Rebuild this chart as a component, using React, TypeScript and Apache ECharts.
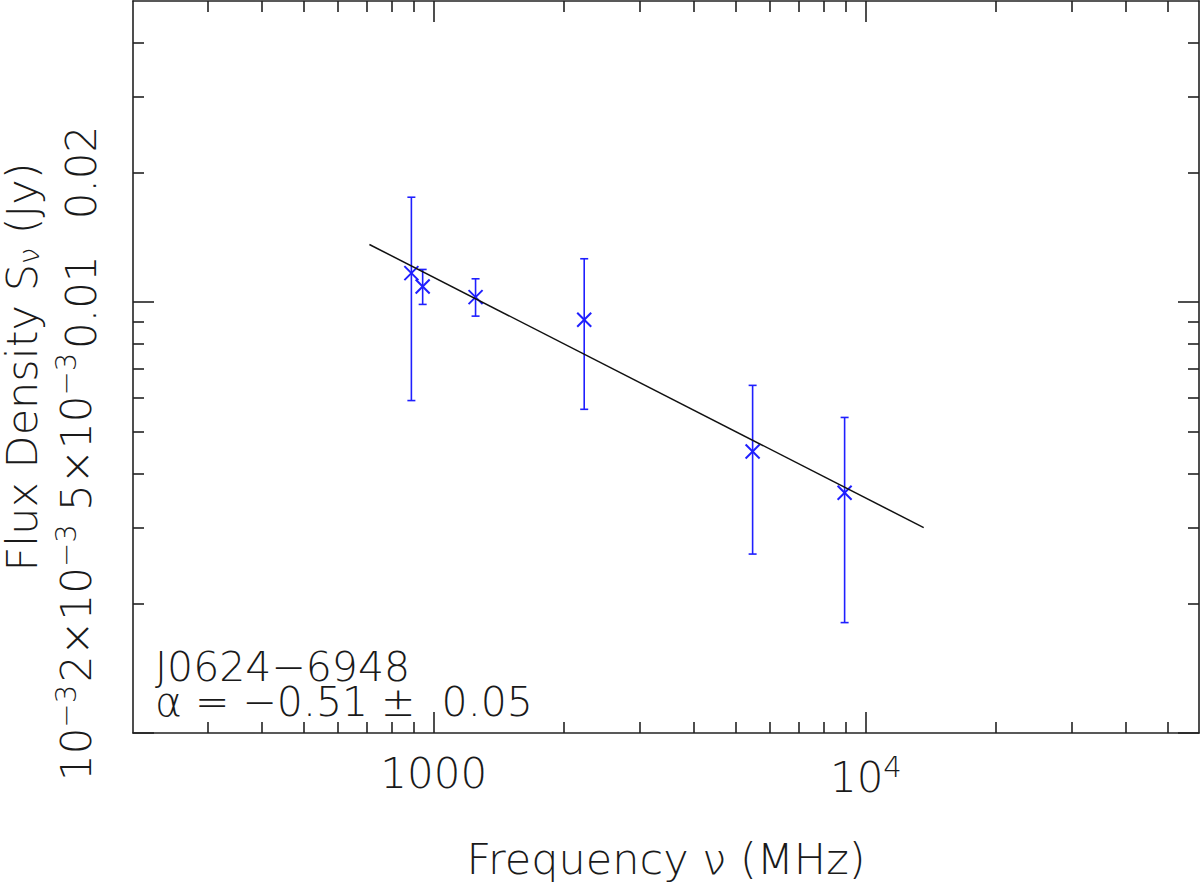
import React, { useEffect, useRef } from "react";
import * as echarts from "echarts";

// ---- data (real units) ----
const freqMHz = [888, 943, 1250, 2230, 5470, 8930];
const fluxJy = [0.01168, 0.01087, 0.01027, 0.0091, 0.0045, 0.003612];
const fluxLowJy = [0.00591, 0.00988, 0.00928, 0.00564, 0.002602, 0.001804];
const fluxHighJy = [0.01752, 0.01191, 0.01133, 0.01261, 0.00641, 0.0054];

const fitFreqMHz = [710, 13610];
const fitFluxJy = [0.01361, 0.002997];

const xRange = [201.5, 59000];
const yRange = [0.001, 0.05];

const xMajorTicks = [1000, 10000];
const xMinorTicks = [300, 400, 500, 600, 700, 800, 900, 2000, 3000, 4000, 5000, 6000, 7000, 8000, 9000, 20000, 30000, 40000, 50000];
const xTickLabels = ["1000", "{b|10}{sup|4}"];

const yMajorTicks = [0.001, 0.01];
const yMinorTicks = [0.002, 0.003, 0.004, 0.005, 0.006, 0.007, 0.008, 0.009, 0.02, 0.03, 0.04];
const yLabelValues = [0.001, 0.002, 0.005, 0.01, 0.02];
const yTickLabels = ["{b|10}{sup|−3}", "{b|2×10}{sup|−3}", "{b|5×10}{sup|−3}", "0.01", "0.02"];

const sourceName = "J0624−6948";
const alphaText = "α = −0.51 ±  0.05";

const FONT = "DejaVu Sans";
const FW = 200;
const TEXT_COLOR = "#1a1a1a";
const AXIS_COLOR = "#222";
const BLUE = "#1f1fff";

const lg = (v: number) => Math.log10(v);

function labelFor(values: number[], labels: string[], v: number) {
  for (let i = 0; i < values.length; i++) {
    if (Math.abs(lg(values[i]) - v) < 1e-6) return labels[i];
  }
  return "";
}

const rich = {
  b: { fontSize: 42, fontFamily: FONT, fontWeight: FW, color: TEXT_COLOR },
  sup: { fontSize: 29, fontFamily: FONT, fontWeight: FW, color: TEXT_COLOR, verticalAlign: "top", padding: [0, 0, 22, 0] },
  sub: { fontSize: 29, fontFamily: FONT, fontWeight: FW, color: TEXT_COLOR, lineHeight: 36, padding: [14, 0, 0, 0] },
  n: { fontSize: 43, fontFamily: FONT, fontWeight: FW, color: TEXT_COLOR, lineHeight: 36 },
};

function makeXAxis(position: "bottom" | "top", major: boolean, withLabels: boolean) {
  return {
    type: "value",
    position,
    min: lg(xRange[0]),
    max: lg(xRange[1]),
    splitLine: { show: false },
    axisLine: { show: major, lineStyle: { color: AXIS_COLOR, width: 1.6 } },
    axisTick: {
      show: true,
      inside: true,
      length: major ? 21 : 11,
      lineStyle: { color: AXIS_COLOR, width: 1.6 },
      customValues: (major ? xMajorTicks : xMinorTicks).map(lg),
    },
    axisLabel: withLabels
      ? {
          show: true,
          margin: 19,
          customValues: xMajorTicks.map(lg),
          formatter: (v: number) => labelFor(xMajorTicks, xTickLabels, v),
          fontSize: 42,
          fontFamily: FONT,
          fontWeight: FW,
          color: TEXT_COLOR,
          rich,
        }
      : { show: false },
    name: withLabels ? "Frequency ν (MHz)" : "",
    nameLocation: "middle",
    nameGap: 104,
    nameTextStyle: { fontSize: 43, fontFamily: FONT, fontWeight: FW, color: TEXT_COLOR },
  };
}

function makeYAxis(position: "left" | "right", major: boolean, withLabels: boolean) {
  return {
    type: "value",
    position,
    min: lg(yRange[0]),
    max: lg(yRange[1]),
    splitLine: { show: false },
    axisLine: { show: major, lineStyle: { color: AXIS_COLOR, width: 1.6 } },
    axisTick: {
      show: true,
      inside: true,
      length: major ? 21 : 11,
      lineStyle: { color: AXIS_COLOR, width: 1.6 },
      customValues: (major ? yMajorTicks : yMinorTicks).map(lg),
    },
    axisLabel: withLabels
      ? {
          show: true,
          rotate: 90,
          margin: 31,
          customValues: yLabelValues.map(lg),
          formatter: (v: number) => labelFor(yLabelValues, yTickLabels, v),
          fontSize: 42,
          fontFamily: FONT,
          fontWeight: FW,
          color: TEXT_COLOR,
          rich,
        }
      : { show: false },
    name: withLabels ? "{n|Flux Density S}{sub|ν}{n| (Jy)}" : "",
    nameLocation: "middle",
    nameGap: 92,
    nameTextStyle: { rich, fontSize: 43, lineHeight: 36, fontFamily: FONT, fontWeight: FW, color: TEXT_COLOR },
  };
}

export default function App() {
  const ref = useRef<HTMLDivElement>(null);

  useEffect(() => {
    document.body.style.margin = "0";
    if (!ref.current) return;
    const chart = echarts.init(ref.current, undefined, { renderer: "svg" });

    const pointData = freqMHz.map((f, i) => [lg(f), lg(fluxJy[i]), lg(fluxLowJy[i]), lg(fluxHighJy[i])]);
    const fitData = fitFreqMHz.map((f, i) => [lg(f), lg(fitFluxJy[i])]);

    const option = {
      animation: false,
      backgroundColor: "#fff",
      grid: { left: 133, right: 1, top: 1, bottom: 152, containLabel: false, outerBoundsMode: "none" },
      xAxis: [
        makeXAxis("bottom", true, true),
        makeXAxis("bottom", false, false),
        makeXAxis("top", true, false),
        makeXAxis("top", false, false),
      ],
      yAxis: [
        makeYAxis("left", true, true),
        makeYAxis("left", false, false),
        makeYAxis("right", true, false),
        makeYAxis("right", false, false),
      ],
      series: [
        {
          type: "line",
          xAxisIndex: 0,
          yAxisIndex: 0,
          data: fitData,
          symbol: "none",
          lineStyle: { color: "#111", width: 1.5 },
          silent: true,
        },
        {
          type: "custom",
          xAxisIndex: 0,
          yAxisIndex: 0,
          data: pointData,
          renderItem: (params: any, api: any) => {
            const c = api.coord([api.value(0), api.value(1)]);
            const lo = api.coord([api.value(0), api.value(2)]);
            const hi = api.coord([api.value(0), api.value(3)]);
            const cap = 4;
            const m = 7;
            const st = { stroke: BLUE, lineWidth: 1.6 };
            const st2 = { stroke: BLUE, lineWidth: 2 };
            return {
              type: "group",
              children: [
                { type: "line", shape: { x1: c[0], y1: lo[1], x2: c[0], y2: hi[1] }, style: st },
                { type: "line", shape: { x1: c[0] - cap, y1: lo[1], x2: c[0] + cap, y2: lo[1] }, style: st },
                { type: "line", shape: { x1: c[0] - cap, y1: hi[1], x2: c[0] + cap, y2: hi[1] }, style: st },
                { type: "line", shape: { x1: c[0] - m, y1: c[1] - m, x2: c[0] + m, y2: c[1] + m }, style: st2 },
                { type: "line", shape: { x1: c[0] - m, y1: c[1] + m, x2: c[0] + m, y2: c[1] - m }, style: st2 },
              ],
            };
          },
        },
      ],
      graphic: [
        {
          type: "text",
          left: 155,
          top: 646,
          style: {
            text: sourceName + "\n" + alphaText,
            fontSize: 41,
            lineHeight: 35,
            fontFamily: FONT,
            fontWeight: FW,
            fill: TEXT_COLOR,
          },
        },
      ],
    };

    chart.setOption(option as any);
    return () => chart.dispose();
  }, []);

  return <div ref={ref} style={{ width: 1200, height: 885 }} />;
}
